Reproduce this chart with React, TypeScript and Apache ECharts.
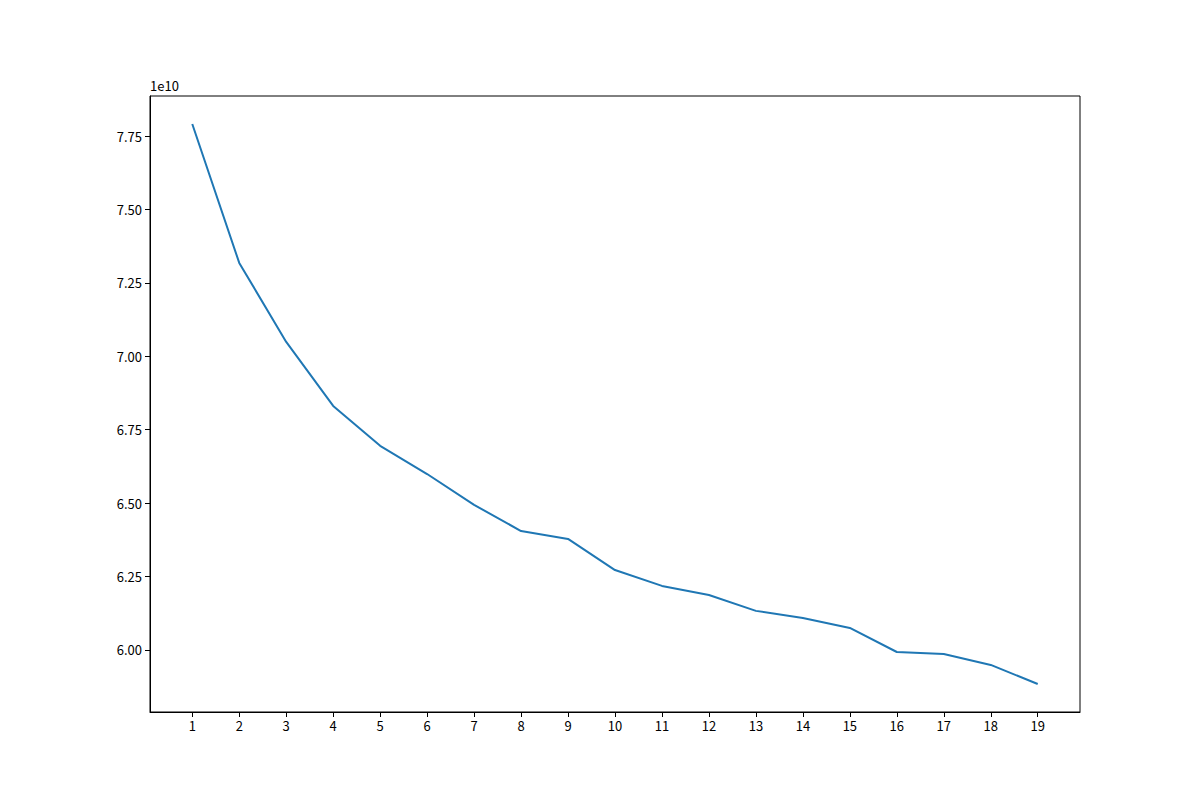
import React, { useEffect, useRef } from "react";
import * as echarts from "echarts";

const xValues = [1, 2, 3, 4, 5, 6, 7, 8, 9, 10, 11, 12, 13, 14, 15, 16, 17, 18, 19];
const yValues = [
  7.791, 7.318, 7.049, 6.831, 6.695, 6.599, 6.494, 6.405, 6.378, 6.272,
  6.218, 6.187, 6.133, 6.109, 6.075, 5.993, 5.986, 5.949, 5.884,
].map((v) => v * 1e10);
const yTicks = [6.0, 6.25, 6.5, 6.75, 7.0, 7.25, 7.5, 7.75].map((v) => v * 1e10);

const FONT = "'Noto Sans CJK JP', 'DejaVu Sans', sans-serif";

export default function App() {
  const ref = useRef<HTMLDivElement>(null);
  useEffect(() => {
    if (!ref.current) return;
    const chart = echarts.init(ref.current, null, { renderer: "svg" });
    const ymin = Math.min(...yValues);
    const ymax = Math.max(...yValues);
    const pad = (ymax - ymin) * 0.05;
    chart.setOption({
      animation: false,
      backgroundColor: "#ffffff",
      grid: {
        left: 150,
        right: 120,
        top: 96,
        bottom: 88,
        show: true,
        borderColor: "#000000",
        borderWidth: 1,
        backgroundColor: "transparent",
      },
      xAxis: {
        type: "value",
        min: 0.1,
        max: 19.9,
        splitLine: { show: false },
        axisLine: { show: true, lineStyle: { color: "#000", width: 1 } },
        axisTick: { show: true, length: 5, customValues: xValues, lineStyle: { color: "#000" } },
        axisLabel: {
          customValues: xValues,
          color: "#000",
          fontSize: 13,
          fontFamily: FONT,
          margin: 7,
        },
      },
      yAxis: {
        type: "value",
        min: ymin - pad,
        max: ymax + pad,
        splitLine: { show: false },
        axisLine: { show: true, lineStyle: { color: "#000", width: 1 } },
        axisTick: { show: true, length: 5, customValues: yTicks, lineStyle: { color: "#000" } },
        axisLabel: {
          customValues: yTicks,
          color: "#000",
          fontSize: 13,
          fontFamily: FONT,
          margin: 8,
          formatter: (v: number) => (v / 1e10).toFixed(2),
        },
      },
      graphic: [
        {
          type: "text",
          left: 150,
          top: 79,
          style: { text: "1e10", fontSize: 13, fontFamily: FONT, fill: "#000" },
        },
      ],
      series: [
        {
          type: "line",
          data: xValues.map((x, i) => [x, yValues[i]]),
          showSymbol: false,
          symbol: "none",
          lineStyle: { color: "#1f77b4", width: 2 },
        },
      ],
    });
    return () => chart.dispose();
  }, []);
  return (
    <div
      ref={ref}
      style={{ position: "fixed", left: 0, top: 0, width: 1200, height: 800 }}
    />
  );
}
